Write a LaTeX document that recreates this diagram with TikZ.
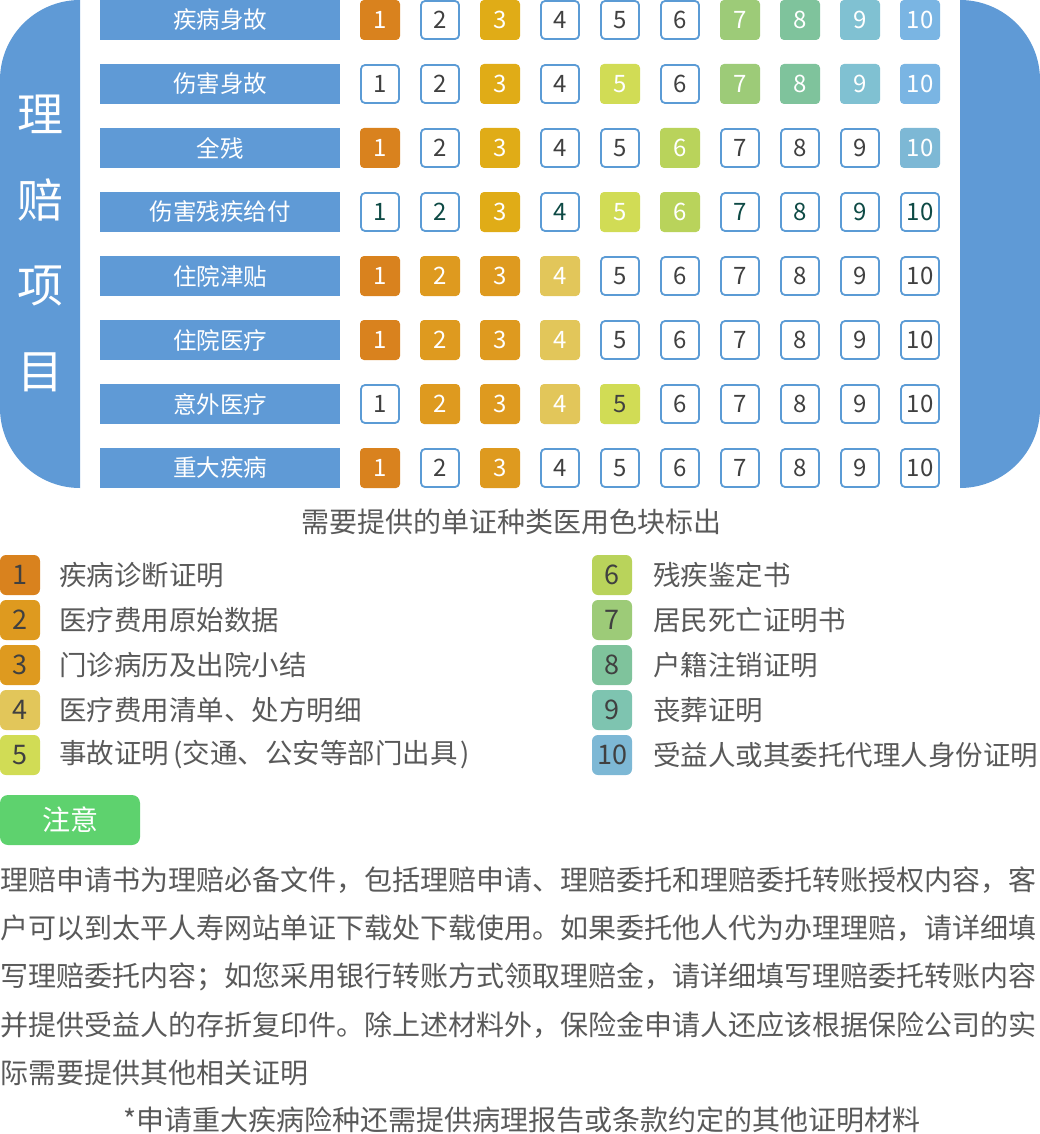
\documentclass[tikz,border=0pt]{standalone}
\usepackage{fontspec}
\setmainfont{Noto Sans CJK SC}
\usepackage{xcolor}
\definecolor{azulpan}{RGB}{95,154,214}
\definecolor{azulbord}{RGB}{91,155,213}
\definecolor{naranja}{RGB}{217,130,30}
\definecolor{ambar}{RGB}{222,154,31}
\definecolor{oro}{RGB}{224,172,23}
\definecolor{mostaza}{RGB}{226,198,90}
\definecolor{lima}{RGB}{209,220,85}
\definecolor{pistacho}{RGB}{185,211,91}
\definecolor{verde}{RGB}{157,203,120}
\definecolor{menta}{RGB}{127,195,156}
\definecolor{turquesa}{RGB}{128,193,210}
\definecolor{turqver}{RGB}{126,196,176}
\definecolor{celeste}{RGB}{122,181,227}
\definecolor{celestgr}{RGB}{125,184,213}
\definecolor{grisos}{RGB}{64,64,64}
\definecolor{gristx}{RGB}{89,89,89}
\definecolor{tealos}{RGB}{14,74,69}
\definecolor{verdenota}{RGB}{94,210,110}
\usepackage{tikz}
\usetikzlibrary{positioning}

\tikzset{
    etiq/.style={fill=azulpan, minimum width=240pt, minimum height=40pt, inner sep=0pt, text=white, font=\fontsize{23.5}{24}\selectfont},
    caja/.style={minimum size=40pt, rounded corners=4pt, inner sep=0pt, text=white, font=\fontsize{24}{24}\selectfont},
    cvac/.style={draw=azulbord, line width=1.8pt, minimum size=38pt, fill=white, text=grisos},
    cvact/.style={cvac, text=tealos},
    cnar/.style={fill=naranja}, camb/.style={fill=ambar}, coro/.style={fill=oro},
    cmos/.style={fill=mostaza}, clim/.style={fill=lima}, climo/.style={fill=lima, text=grisos},
    cpis/.style={fill=pistacho}, cver/.style={fill=verde}, cmen/.style={fill=menta},
    ctur/.style={fill=turquesa}, ccel/.style={fill=celeste}, ccel2/.style={fill=celestgr},
    clave/.style={minimum size=40pt, rounded corners=6pt, inner sep=0pt, text=grisos, font=\fontsize{27}{27}\selectfont},
    leyenda/.style={inner sep=0pt, text=gristx, font=\fontsize{27.5}{28}\selectfont},
    parrafo/.style={anchor=west, inner sep=0pt, text=gristx, font=\fontsize{28}{28}\selectfont}
}

\begin{document}
\begin{tikzpicture}[x=1pt,y=1pt]
    \useasboundingbox (0,0) rectangle (1040,-1134);
    % paneles laterales
    \fill[azulpan] (80,0) -- (80,-488) arc[start angle=-90, end angle=-180, radius=80] -- (0,-80) arc[start angle=180, end angle=90, radius=80] -- cycle;
    \fill[azulpan] (960,0) -- (960,-488) arc[start angle=-90, end angle=0, radius=80] -- (1040,-80) arc[start angle=0, end angle=90, radius=80] -- cycle;
    \foreach \ch [count=\k] in {理,赔,项,目}
        \node[text=white, font=\fontsize{46}{46}\selectfont] (lp\k) at (40,{-114-86*(\k-1)}) {\ch};
    % tabla de items
    \foreach \fila/\nombre/\lista in {
        1/疾病身故/{cnar,cvac,coro,cvac,cvac,cvac,cver,cmen,ctur,ccel},
        2/伤害身故/{cvac,cvac,coro,cvac,clim,cvac,cver,cmen,ctur,ccel},
        3/全残/{cnar,cvac,coro,cvac,cvac,cpis,cvac,cvac,cvac,ccel2},
        4/伤害残疾给付/{cvact,cvact,coro,cvact,clim,cpis,cvact,cvact,cvact,cvact},
        5/住院津贴/{cnar,camb,camb,cmos,cvac,cvac,cvac,cvac,cvac,cvac},
        6/住院医疗/{cnar,camb,camb,cmos,cvac,cvac,cvac,cvac,cvac,cvac},
        7/意外医疗/{cvac,camb,camb,cmos,climo,cvac,cvac,cvac,cvac,cvac},
        8/重大疾病/{cnar,cvac,camb,cvac,cvac,cvac,cvac,cvac,cvac,cvac}}
    {
        \node[etiq] (et\fila) at (220,{-20-64*(\fila-1)}) {\nombre};
        \foreach \est [count=\j] in \lista
            \node[caja,\est] (b\fila-\j) at ({380+60*(\j-1)},{-20-64*(\fila-1)}) {\j};
    }
    \node[text=gristx, font=\fontsize{28}{28}\selectfont] (titulo) at (511,-522) {需要提供的单证种类医用色块标出};
    % leyenda
    \foreach \n/\col/\txt in {1/naranja/疾病诊断证明, 2/ambar/医疗费用原始数据, 3/ambar/门诊病历及出院小结, 4/mostaza/医疗费用清单、处方明细, 5/lima/事故证明\hspace{4pt}(交通、公安等部门出具\hspace{3pt})}
    {
        \node[clave, fill=\col] (l\n) at (20,{-575-45*(\n-1)}) {\n};
        \node[leyenda, right=19pt of l\n] (t\n) {\txt};
    }
    \foreach \n/\col/\txt in {6/pistacho/残疾鉴定书, 7/verde/居民死亡证明书, 8/menta/户籍注销证明, 9/turqver/丧葬证明, 10/celestgr/受益人或其委托代理人身份证明}
    {
        \node[clave, fill=\col] (l\n) at (612,{-575-45*(\n-6)}) {\n};
        \node[leyenda, right=21pt of l\n] (t\n) {\txt};
    }
    % nota
    \node[fill=verdenota, rounded corners=8pt, minimum width=140pt, minimum height=50pt, inner sep=0pt, text=white, font=\fontsize{28}{28}\selectfont] (nota) at (70,-820) {注意};
    \foreach \linea [count=\i] in {
        理赔申请书为理赔必备文件，包括理赔申请、理赔委托和理赔委托转账授权内容，客,
        户可以到太平人寿网站单证下载处下载使用。如果委托他人代为办理理赔，请详细填,
        写理赔委托内容；如您采用银行转账方式领取理赔金，请详细填写理赔委托转账内容,
        并提供受益人的存折复印件。除上述材料外，保险金申请人还应该根据保险公司的实,
        际需要提供其他相关证明}
        \node[parrafo] (p\i) at (0,{-880-48.2*(\i-1)}) {\linea};
    \node[text=gristx, inner sep=0pt, font=\fontsize{28}{28}\selectfont] (pie) at (522,-1120) {*申请重大疾病险种还需提供病理报告或条款约定的其他证明材料};
\end{tikzpicture}
\end{document}
